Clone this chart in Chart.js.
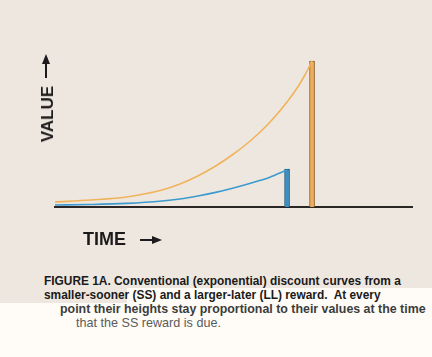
<!DOCTYPE html>
<html><head><meta charset="utf-8">
<script src="https://cdn.jsdelivr.net/npm/chart.js@4/dist/chart.umd.min.js"></script>
<style>
html,body{margin:0;padding:0;width:432px;height:357px;overflow:hidden;background:#fffcf7;font-family:"Liberation Sans",Arial,sans-serif;}
#bg1{position:absolute;left:0;top:0;width:432px;height:288px;background:#eee7df;}
#bg2{position:absolute;left:0;top:288px;width:127px;height:15px;background:#eee7df;}
#wrap{position:absolute;left:0;top:0;width:432px;height:260px;}
.t{position:absolute;white-space:nowrap;}
#value{left:48px;top:114px;transform:translate(-50%,-50%) rotate(-90deg);font-weight:bold;font-size:17px;color:#1c1a1a;}
#time{left:83px;top:229px;font-weight:bold;font-size:18px;color:#1c1a1a;}
.cap{line-height:14px;}
</style></head><body>
<div id="bg1"></div><div id="bg2"></div>
<div id="wrap"><canvas id="c" width="432" height="260"></canvas></div>
<div class="t" id="value">VALUE</div>
<div class="t" id="time">TIME</div>
<div class="t cap" style="left:44px;top:274px;font-size:11.9px;font-weight:bold;color:#1a1a1a;">FIGURE 1A. Conventional (exponential) discount curves from a</div>
<div class="t cap" style="left:44px;top:288px;font-size:11.9px;font-weight:bold;color:#1a1a1a;">smaller-sooner (SS) and a larger-later (LL) reward.&nbsp; At every</div>
<div class="t cap" style="left:60px;top:302px;font-size:12.4px;color:#3c3c3c;font-weight:bold;">point their heights stay proportional to their values at the time</div>
<div class="t cap" style="left:76px;top:316px;font-size:12.6px;color:#5a5a5a;">that the SS reward is due.</div>
<script>
// time samples (arbitrary time units, 0..100 across the axis)
const llTimes  = [0, 10, 20, 30, 35, 40, 45, 50, 55, 60, 65, 68, 70, 72];
const llValues = [5, 7, 10, 17, 23, 31, 41, 53, 67, 84, 105, 120, 132, 146];
const ssTimes  = [0, 10, 20, 30, 35, 40, 45, 50, 55, 60, 65];
const ssValues = [2, 2.5, 3.6, 6, 8, 11, 14.6, 19, 24, 29.5, 37];
// reward bars: time due and full value
const rewardTimes  = [65, 72];
const rewardValues = [38, 146];

const toPts = (xs, ys) => xs.map((x, i) => ({x, y: ys[i]}));

const arrows = {
  id: 'arrows',
  afterDraw(chart) {
    const ctx = chart.ctx;
    ctx.save();
    ctx.fillStyle = '#1c1a1a';
    ctx.strokeStyle = '#1c1a1a';
    ctx.lineWidth = 2;
    // vertical arrow
    ctx.beginPath(); ctx.moveTo(46, 78); ctx.lineTo(46, 62); ctx.stroke();
    ctx.beginPath(); ctx.moveTo(46, 54); ctx.lineTo(50, 64); ctx.lineTo(42, 64); ctx.closePath(); ctx.fill();
    // horizontal arrow
    ctx.beginPath(); ctx.moveTo(140, 240); ctx.lineTo(154, 240); ctx.stroke();
    ctx.beginPath(); ctx.moveTo(162, 240); ctx.lineTo(152, 236); ctx.lineTo(152, 244); ctx.closePath(); ctx.fill();
    ctx.restore();
  }
};

new Chart(document.getElementById('c'), {
  type: 'line',
  data: {
    datasets: [
      {type:'line', label:'LL', data: toPts(llTimes, llValues), borderColor:'#f0b35c', borderWidth:1.6, pointRadius:0, cubicInterpolationMode:'monotone', fill:false, order:1},
      {type:'line', label:'SS', data: toPts(ssTimes, ssValues), borderColor:'#3c9acf', borderWidth:1.6, pointRadius:0, cubicInterpolationMode:'monotone', fill:false, order:1},
      {type:'bar', label:'Rewards', data: toPts(rewardTimes, rewardValues), backgroundColor:['#3b8fc2','#eead5d'], borderColor:['#1f5b80','#8a5a22'], borderWidth:1, barThickness:5, order:2}
    ]
  },
  options: {
    responsive:false, devicePixelRatio:1, animation:false,
    layout:{padding:{left:55, right:20, top:57, bottom:53}},
    plugins:{legend:{display:false}, tooltip:{enabled:false}},
    scales:{
      x:{type:'linear', min:0, max:100, offset:false, grid:{display:false, drawTicks:false}, ticks:{display:false}, border:{display:true, color:'#2a2626', width:2}},
      y:{type:'linear', min:0, max:150, display:false}
    }
  },
  plugins:[arrows]
});
</script>
</body></html>
